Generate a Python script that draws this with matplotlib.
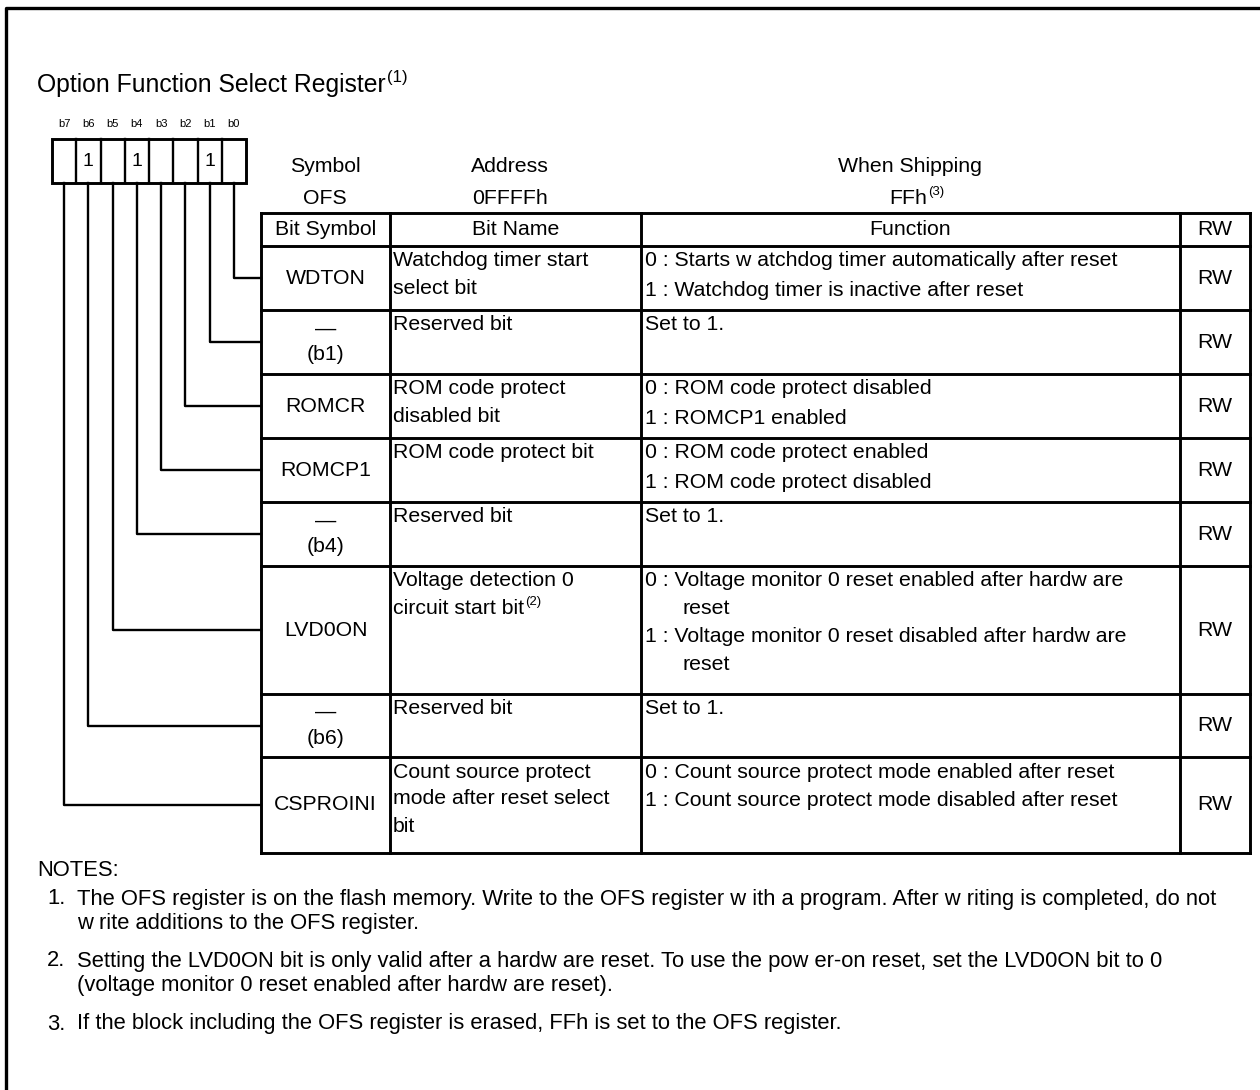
import matplotlib
matplotlib.use('Agg')
import matplotlib.pyplot as plt

plt.rcParams['font.family'] = ['Liberation Sans', 'DejaVu Sans']

# register data
title = 'Option Function Select Register'
title_note = '(1)'
bit_labels = ['b7', 'b6', 'b5', 'b4', 'b3', 'b2', 'b1', 'b0']
bit_values = ['', '1', '', '1', '', '', '1', '']
symbol_name = 'OFS'
address = '0FFFFh'
shipping = 'FFh'
shipping_note = '(3)'
col_headers = ['Bit Symbol', 'Bit Name', 'Function', 'RW']

# table rows, from b0 down to b7
bit_symbols = ['WDTON', '—\n(b1)', 'ROMCR', 'ROMCP1', '—\n(b4)', 'LVD0ON', '—\n(b6)', 'CSPROINI']
bit_names = [
    ['Watchdog timer start', 'select bit'],
    ['Reserved bit'],
    ['ROM code protect', 'disabled bit'],
    ['ROM code protect bit'],
    ['Reserved bit'],
    ['Voltage detection 0', 'circuit start bit'],
    ['Reserved bit'],
    ['Count source protect', 'mode after reset select', 'bit'],
]
name_notes = [None, None, None, None, None, '(2)', None, None]
functions = [
    [['0 : Starts w atchdog timer automatically after reset'], ['1 : Watchdog timer is inactive after reset']],
    [['Set to 1.']],
    [['0 : ROM code protect disabled'], ['1 : ROMCP1 enabled']],
    [['0 : ROM code protect enabled'], ['1 : ROM code protect disabled']],
    [['Set to 1.']],
    [['0 : Voltage monitor 0 reset enabled after hardw are', 'reset'],
     ['1 : Voltage monitor 0 reset disabled after hardw are', 'reset']],
    [['Set to 1.']],
    [['0 : Count source protect mode enabled after reset'], ['1 : Count source protect mode disabled after reset']],
]
rw = ['RW'] * 8

notes = [
    ['The OFS register is on the flash memory. Write to the OFS register w ith a program. After w riting is completed, do not',
     'w rite additions to the OFS register.'],
    ['Setting the LVD0ON bit is only valid after a hardw are reset. To use the pow er-on reset, set the LVD0ON bit to 0',
     '(voltage monitor 0 reset enabled after hardw are reset).'],
    ['If the block including the OFS register is erased, FFh is set to the OFS register.'],
]

# layout (pixels)
W, H = 1260, 1090
box_left, box_w, box_top, box_bot = 52, 24.25, 139, 183
col_x = [261, 390, 641, 1180, 1250]
row_y = [213, 246, 310, 374, 438, 502, 566, 694, 757, 853]
fs = 15.3
fs_note = 15.8
lw_tab = 2.1
lw_line = 1.7

fig = plt.figure(figsize=(W / 100, H / 100), dpi=100)
ax = fig.add_axes([0, 0, 1, 1])
ax.set_xlim(0, W)
ax.set_ylim(H, 0)
ax.axis('off')
renderer = fig.canvas.get_renderer()


def with_sup(x, y, main, sup, size, ratio=0.62):
    t = ax.text(x, y, main, fontsize=size, ha='left', va='center')
    bb = t.get_window_extent(renderer)
    ax.text(bb.x1 + 1, H - bb.y1 - 3, sup, fontsize=size * ratio, ha='left', va='top')


# outer frame (top and left only visible)
ax.plot([6, 6, W], [H, 8, 8], color='black', lw=2.4, solid_capstyle='butt')

with_sup(37, 85, title, title_note, 17.8, ratio=0.68)

# bit boxes
for i, (lab, val) in enumerate(zip(bit_labels, bit_values)):
    cx = box_left + box_w * (i + 0.5)
    ax.text(cx, 124, lab, fontsize=8, ha='center', va='center')
    if val:
        ax.text(cx, 161, val, fontsize=14, ha='center', va='center')
ax.add_patch(plt.Rectangle((box_left, box_top), box_w * 8, box_bot - box_top,
                           fill=False, lw=lw_tab, ec='black'))
for i in range(1, 8):
    x = box_left + box_w * i
    ax.plot([x, x], [box_top, box_bot], color='black', lw=lw_line)

# header block
ax.text(325, 166, 'Symbol', fontsize=fs, ha='center', va='center')
ax.text(325, 198, symbol_name, fontsize=fs, ha='center', va='center')
ax.text(510, 166, 'Address', fontsize=fs, ha='center', va='center')
ax.text(510, 198, address, fontsize=fs, ha='center', va='center')
ax.text(910, 166, 'When Shipping', fontsize=fs, ha='center', va='center')
with_sup(889, 198, shipping, shipping_note, fs)

# table header
hy = (row_y[0] + row_y[1]) / 2
for j, h in enumerate(col_headers):
    ax.text((col_x[j] + col_x[j + 1]) / 2, hy, h, fontsize=fs, ha='center', va='center')

# table grid
for y in row_y:
    ax.plot([col_x[0], col_x[-1]], [y, y], color='black', lw=lw_tab, solid_capstyle='projecting')
for x in col_x:
    ax.plot([x, x], [row_y[0], row_y[-1]], color='black', lw=lw_tab, solid_capstyle='projecting')

line_h = 27
for r in range(8):
    top, bot = row_y[r + 1], row_y[r + 2]
    cy = (top + bot) / 2
    sx = (col_x[0] + col_x[1]) / 2
    sym = bit_symbols[r]
    if '\n' in sym:
        a, b = sym.split('\n')
        ax.text(sx, cy - 13, a, fontsize=fs, ha='center', va='center')
        ax.text(sx, cy + 13, b, fontsize=fs, ha='center', va='center')
    else:
        ax.text(sx, cy, sym, fontsize=fs, ha='center', va='center')
    for k, ln in enumerate(bit_names[r]):
        y = top + 15 + k * line_h
        if name_notes[r] and k == len(bit_names[r]) - 1:
            with_sup(col_x[1] + 3, y, ln, name_notes[r], fs)
        else:
            ax.text(col_x[1] + 3, y, ln, fontsize=fs, ha='left', va='center')
    y = top + 15
    for item in functions[r]:
        for k, ln in enumerate(item):
            ax.text(col_x[2] + 4 if k == 0 else col_x[2] + 41, y, ln, fontsize=fs, ha='left', va='center')
            y += line_h
        y += 2
    ax.text((col_x[3] + col_x[4]) / 2, cy, rw[r], fontsize=fs, ha='center', va='center')

    # connector from bit box down to the row
    bx = box_left + box_w * (7 - r + 0.5)
    ax.plot([bx, bx, col_x[0]], [box_bot, cy, cy], color='black', lw=lw_line)

# notes
ax.text(37, 871, 'NOTES:', fontsize=fs_note, ha='left', va='center')
ny = [899, 961, 1024]
for n, lines in enumerate(notes):
    ax.text(47, ny[n], f'{n + 1}.', fontsize=fs_note, ha='left', va='center')
    for k, ln in enumerate(lines):
        ax.text(77, ny[n] + k * 24, ln, fontsize=fs_note, ha='left', va='center')

fig.savefig('out.png', dpi=100)
